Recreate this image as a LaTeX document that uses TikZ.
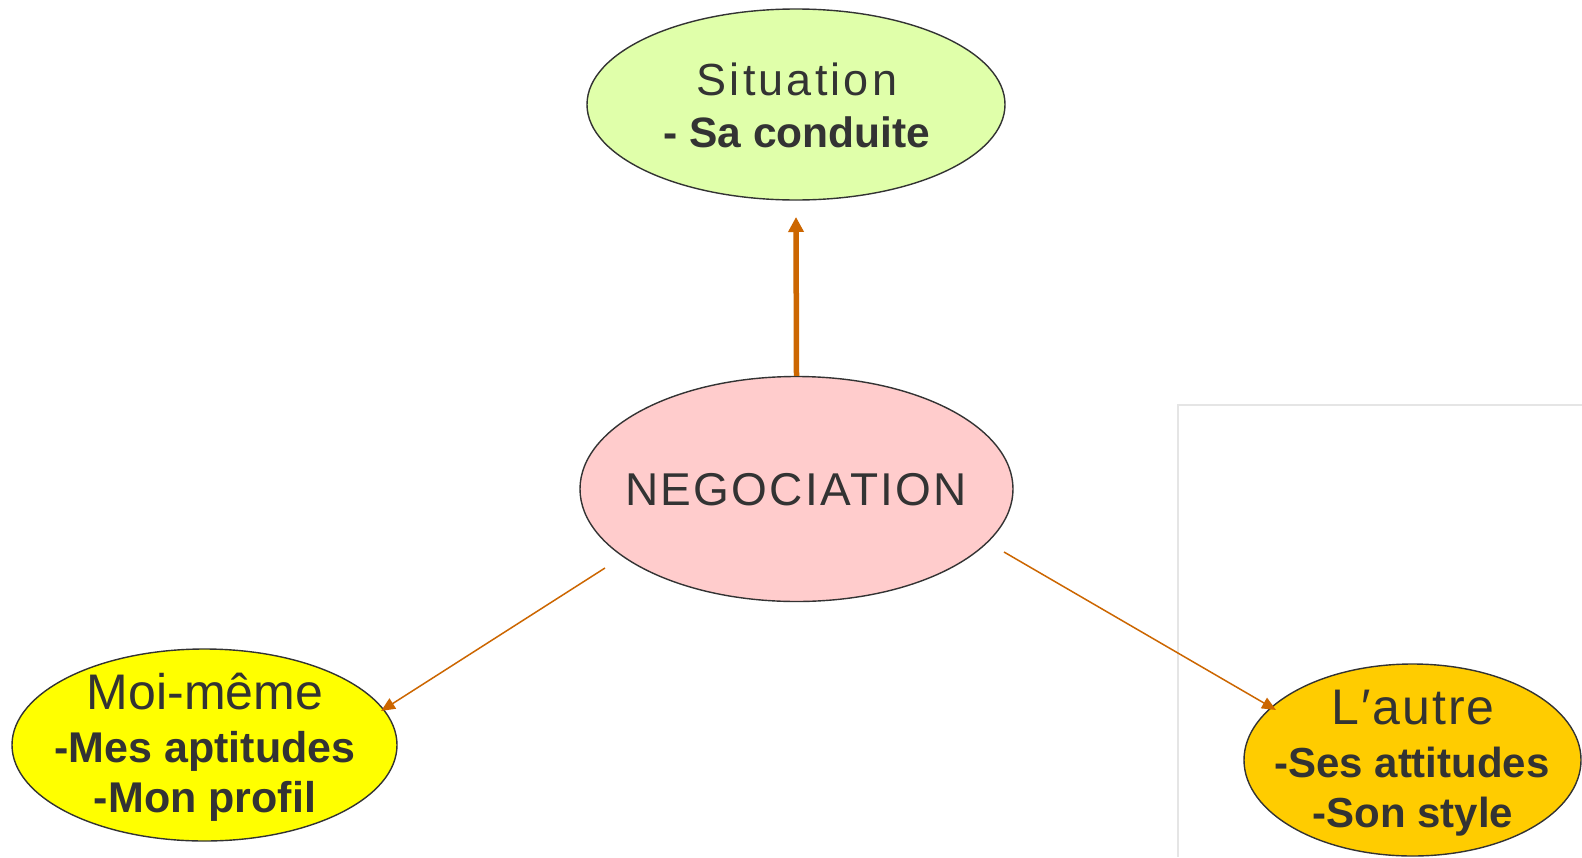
\documentclass[tikz,border=0pt]{standalone}
\usepackage{fontspec}
\setmainfont{Liberation Sans}
\newfontfamily\spfont[LetterSpace=7]{Liberation Sans}
\newfontfamily\negfont[LetterSpace=5]{Liberation Sans}
\newfontfamily\autfont[LetterSpace=4]{Liberation Sans}
\usetikzlibrary{shapes.geometric,arrows.meta}
\definecolor{txtc}{HTML}{333333}
\definecolor{sitfill}{HTML}{E0FFAA}
\definecolor{negfill}{HTML}{FFCCCC}
\definecolor{moifill}{HTML}{FFFF00}
\definecolor{autfill}{HTML}{FFCC00}
\definecolor{arrc}{HTML}{CC6600}
\begin{document}
\begin{tikzpicture}[x=1pt,y=1pt,
  bub/.style={ellipse, draw=txtc, line width=1.4pt, inner sep=0pt},
  lbl/.style={text=txtc, anchor=base, inner sep=0pt},
  conn/.style={draw=arrc, line width=1.5pt, -{Triangle[length=14pt,width=12pt]}},
  bigconn/.style={draw=arrc, line width=5.5pt, -{Triangle[length=15pt,width=15pt]}}]
\useasboundingbox (0,0) rectangle (1582,-857);
\fill[white] (0,0) rectangle (1582,-857);
\draw[black!10, line width=1.5pt] (1178,-857) -- (1178,-405) -- (1582,-405);

\node[bub, fill=sitfill, minimum width=418pt, minimum height=191pt] (sit) at (796,-104.5) {};
\node[bub, fill=negfill, minimum width=433pt, minimum height=225pt] (neg) at (796.5,-489) {};
\node[bub, fill=moifill, minimum width=385pt, minimum height=192pt] (moi) at (204.5,-745) {};
\node[bub, fill=autfill, minimum width=337pt, minimum height=192pt] (aut) at (1412.5,-760) {};

\node[lbl, font=\spfont\fontsize{45}{45}\selectfont] (sit1) at (797,-95) {Situation};
\node[lbl, font=\bfseries\fontsize{42.5}{42.5}\selectfont] (sit2) at (797,-147.5) {- Sa conduite};

\node[lbl, font=\negfont\fontsize{46}{46}\selectfont] (neg1) at (796,-505) {NEGOCIATION};

\node[lbl, font=\fontsize{50}{50}\selectfont] (moi1) at (205,-709) {Moi-même};
\node[lbl, font=\bfseries\fontsize{43}{43}\selectfont] (moi2) at (205,-762) {-Mes aptitudes};
\node[lbl, font=\bfseries\fontsize{43}{43}\selectfont] (moi3) at (205,-812) {-Mon profil};

\node[lbl, font=\autfont\fontsize{50}{50}\selectfont] (aut1) at (1413,-724) {L′autre};
\node[lbl, font=\bfseries\fontsize{42}{42}\selectfont] (aut2) at (1412,-777) {-Ses attitudes};
\node[lbl, font=\bfseries\fontsize{42}{42}\selectfont] (aut3) at (1413,-827) {-Son style};

\coordinate (upTip) at (796,-217);
\coordinate (lStart) at (605,-568);
\coordinate (lTip) at (381,-711);
\coordinate (rStart) at (1004,-552);
\coordinate (rTip) at (1276,-710);

\draw[bigconn] (neg.north) -- (upTip);
\draw[conn] (lStart) -- (lTip);
\draw[conn] (rStart) -- (rTip);
\end{tikzpicture}
\end{document}
